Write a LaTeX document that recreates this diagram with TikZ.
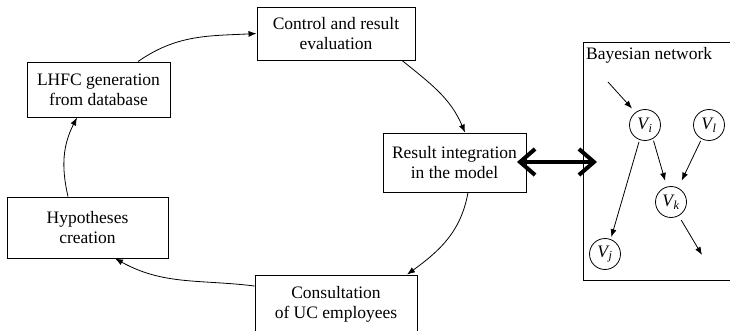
\documentclass[tikz,border=0pt]{standalone}
\usepackage{fontspec}
\setmainfont{Liberation Serif}
\usetikzlibrary{arrows.meta}
\tikzset{
  box/.style={draw, line width=0.9pt, align=center, inner sep=2pt},
  arr/.style={line width=0.8pt, -{Latex[length=8pt,width=6pt]}},
  vnode/.style={draw, circle, line width=0.8pt, minimum size=31pt, inner sep=0pt},
  big/.style={line width=4pt, {Straight Barb[length=15pt,width=26pt]}-{Straight Barb[length=15pt,width=26pt]}}
}
\newcommand{\vv}[1]{\textit{V}\textsubscript{\kern-1pt\textit{#1}}}
\begin{document}
\begin{tikzpicture}[x=1pt,y=1pt,font=\fontsize{17.5}{20}\selectfont]
\useasboundingbox (0,0) rectangle (730,-331);
% cycle boxes
\node[box, minimum width=143pt, minimum height=55pt] (lhfc) at (98.5,-89.5) {LHFC generation\\from database};
\node[box, minimum width=158pt, minimum height=53pt] (ctrl) at (336,-33.5) {Control and result\\evaluation};
\node[box, minimum width=143pt, minimum height=59pt] (res) at (454.5,-162.5) {Result integration\\in the model};
\node[box, minimum width=161pt, minimum height=61pt] (hyp) at (87.5,-227.5) {Hypotheses\\creation};
\node[box, minimum width=162pt, minimum height=59pt] (cons) at (336,-304.5) {Consultation\\of UC employees};
% cycle arrows
\draw[arr] ([xshift=39.5pt]lhfc.north) to[out=35,in=183] (ctrl.west);
\draw[arr] ([xshift=66pt]ctrl.south) to[out=-39,in=113] ([xshift=10.5pt]res.north);
\draw[arr] ([xshift=13.5pt]res.south) to[out=-100,in=36] ([xshift=71pt]cons.north);
\draw[arr] ([yshift=18.5pt]cons.west) to[out=173,in=-29] ([xshift=27.5pt]hyp.south);
\draw[arr] ([xshift=-19.5pt]hyp.north) to[out=103,in=-117] ([xshift=-21.5pt]lhfc.south);
% Bayesian network frame
\draw[line width=0.9pt] (731,-42) -- (583,-42) -- (583,-280) -- (731,-280);
\node[anchor=west, inner sep=0pt] (bnl) at (586,-55) {Bayesian network};
% double arrow
\coordinate (dl) at (517,-162);
\coordinate (dr) at (597,-162);
\draw[big] (dl) -- (dr);
% network nodes
\node[vnode] (vi) at (645,-125) {\vv{i}};
\node[vnode] (vl) at (709,-125) {\vv{l}};
\node[vnode] (vk) at (671,-202) {\vv{k}};
\node[vnode] (vj) at (605,-254) {\vv{j}};
\coordinate (vin) at (608,-82);
\coordinate (vout) at (702,-255);
\draw[arr, shorten >=5pt] (vin) -- (vi.127);
\draw[arr, shorten <=2pt, shorten >=2pt] (vi.-110) -- (vj.69);
\draw[arr, shorten <=2pt, shorten >=6pt] (vi.-60) -- (vk.105);
\draw[arr, shorten <=2pt, shorten >=8pt] (vl.-118) -- (vk.63);
\draw[arr, shorten <=5pt] (vk.-61) -- (vout);
\end{tikzpicture}
\end{document}
